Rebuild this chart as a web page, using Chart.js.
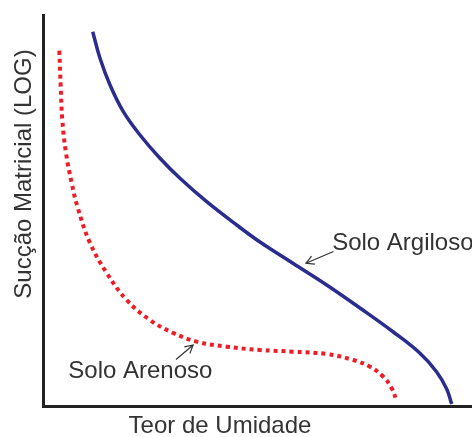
<!DOCTYPE html>
<html>
<head>
<meta charset="utf-8">
<script src="https://cdn.jsdelivr.net/npm/chart.js@4"></script>
<style>
  html, body { margin: 0; padding: 0; background: #ffffff; }
  canvas { display: block; }
</style>
</head>
<body>
<canvas id="c" width="472" height="437"></canvas>
<script>
// ---- Data (x: teor de umidade, y: sucção matricial, both in relative units 0-100) ----
const argilosoX = [11.59, 13.29, 15.62, 18.72, 22.61, 27.27, 31.93, 38.16, 45.15, 50.58, 58.34, 66.13, 73.89, 81.66, 87.88, 91.77, 94.10, 95.27];
const argilosoY = [95.73, 88.93, 82.10, 75.27, 69.31, 63.35, 58.24, 52.25, 46.29, 41.94, 36.45, 30.95, 25.06, 18.93, 13.48, 8.70, 4.35, 0.51];

const arenosoX = [3.80, 4.13, 4.50, 5.36, 6.69, 8.04, 10.96, 14.85, 19.51, 24.94, 30.37, 35.83, 42.82, 50.58, 58.35, 66.13, 72.33, 76.22, 79.32, 81.28, 82.45];
const arenosoY = [90.87, 81.66, 73.15, 64.71, 57.03, 50.90, 41.69, 34.02, 27.11, 21.99, 18.67, 16.45, 15.17, 14.32, 13.89, 13.30, 11.76, 10.05, 7.49, 4.53, 1.28];

const seriesNames = ['Solo Argiloso', 'Solo Arenoso'];
const xAxisTitle = 'Teor de Umidade';
const yAxisTitle = 'Sucção Matricial (LOG)';

// annotation anchors (data units)
const noteText   = ['Solo Argiloso', 'Solo Arenoso'];
const noteX      = [67.4, 5.9];
const noteY      = [39.9, 7.1];
const arrowFromX = [67.7, 31.0];
const arrowFromY = [39.5, 11.9];
const arrowToX   = [61.3, 35.0];
const arrowToY   = [36.5, 15.6];

const toPoints = (xs, ys) => xs.map((x, i) => ({ x: x, y: ys[i] }));

const FONT = '"Liberation Sans", Arial, Helvetica, sans-serif';
const TEXT_COLOR = '#333333';

const annotationPlugin = {
  id: 'notes',
  afterDraw(chart) {
    const ctx = chart.ctx;
    const xs = chart.scales.x, ys = chart.scales.y;
    ctx.save();
    ctx.fillStyle = TEXT_COLOR;
    ctx.strokeStyle = '#333333';
    ctx.lineWidth = 1.2;
    ctx.font = '24px ' + FONT;
    ctx.textBaseline = 'alphabetic';
    ctx.textAlign = 'left';
    for (let i = 0; i < noteText.length; i++) {
      ctx.fillText(noteText[i], xs.getPixelForValue(noteX[i]), ys.getPixelForValue(noteY[i]));
      const x1 = xs.getPixelForValue(arrowFromX[i]), y1 = ys.getPixelForValue(arrowFromY[i]);
      const x2 = xs.getPixelForValue(arrowToX[i]),   y2 = ys.getPixelForValue(arrowToY[i]);
      ctx.beginPath();
      ctx.moveTo(x1, y1);
      ctx.lineTo(x2, y2);
      const a = Math.atan2(y2 - y1, x2 - x1);
      const L = 9, w = 0.5;
      ctx.moveTo(x2 - L * Math.cos(a - w), y2 - L * Math.sin(a - w));
      ctx.lineTo(x2, y2);
      ctx.lineTo(x2 - L * Math.cos(a + w), y2 - L * Math.sin(a + w));
      ctx.stroke();
    }
    // axis titles
    ctx.font = '24px ' + FONT;
    ctx.textAlign = 'center';
    ctx.fillText(xAxisTitle, 220, 433);
    ctx.translate(31, 174);
    ctx.rotate(-Math.PI / 2);
    ctx.fillText(yAxisTitle, 0, 0);
    ctx.restore();
  }
};

new Chart(document.getElementById('c'), {
  type: 'scatter',
  data: {
    datasets: [
      {
        label: seriesNames[0],
        data: toPoints(argilosoX, argilosoY),
        showLine: true,
        borderColor: '#2a2c8e',
        borderWidth: 3.5,
        pointRadius: 0,
        tension: 0.4,
        fill: false,
        clip: false
      },
      {
        label: seriesNames[1],
        data: toPoints(arenosoX, arenosoY),
        showLine: true,
        borderColor: '#ee1c25',
        borderWidth: 4,
        borderDash: [4, 4],
        borderCapStyle: 'butt',
        pointRadius: 0,
        tension: 0.4,
        fill: false,
        clip: false
      }
    ]
  },
  options: {
    responsive: false,
    animation: false,
    devicePixelRatio: 1,
    layout: { padding: { left: 43, top: 15, right: 0, bottom: 31 } },
    plugins: { legend: { display: false }, tooltip: { enabled: false } },
    scales: {
      x: {
        type: 'linear', min: 0, max: 100,
        ticks: { display: false },
        grid: { display: false, drawTicks: false },
        border: { display: true, color: '#222222', width: 3 },
        afterFit(s) { s.height = 0; }
      },
      y: {
        type: 'linear', min: 0, max: 100,
        ticks: { display: false },
        grid: { display: false, drawTicks: false },
        border: { display: true, color: '#222222', width: 3 },
        afterFit(s) { s.width = 0; }
      }
    }
  },
  plugins: [annotationPlugin]
});
</script>
</body>
</html>
